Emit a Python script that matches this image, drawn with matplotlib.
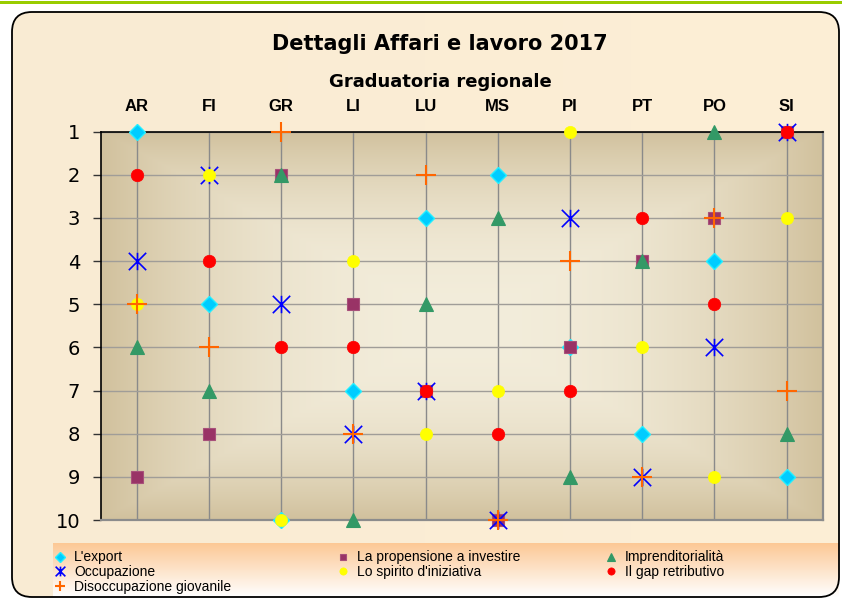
import numpy as np
import matplotlib
matplotlib.use('Agg')
import matplotlib.pyplot as plt
import matplotlib.colors as mcolors
from matplotlib.patches import FancyBboxPatch, Rectangle
from matplotlib.path import Path
from matplotlib.markers import MarkerStyle

# ---------------- data ----------------
regions = ['AR', 'FI', 'GR', 'LI', 'LU', 'MS', 'PI', 'PT', 'PO', 'SI']
rank_ticks = [1, 2, 3, 4, 5, 6, 7, 8, 9, 10]

export = [1, 5, 10, 7, 3, 2, 6, 8, 4, 9]
propensione = [9, 8, 2, 5, 7, 10, 6, 4, 3, 1]
imprenditorialita = [6, 7, 2, 10, 5, 3, 9, 4, 1, 8]
occupazione = [4, 2, 5, 8, 7, 10, 3, 9, 6, 1]
spirito = [5, 2, 10, 4, 8, 7, 1, 6, 9, 3]
gap_retributivo = [2, 4, 6, 6, 7, 8, 7, 3, 5, 1]
disoccupazione = [5, 6, 1, 8, 2, 10, 4, 9, 3, 7]

labels = ["L'export", "La propensione a investire", "Imprenditorialità",
          "Occupazione", "Lo spirito d'iniziativa", "Il gap retributivo",
          "Disoccupazione giovanile"]
series = [export, propensione, imprenditorialita, occupazione, spirito,
          gap_retributivo, disoccupazione]

title = "Dettagli Affari e lavoro 2017"
subtitle = "Graduatoria regionale"

# ---------------- styles ----------------
asterisk = Path([(-1, -1), (1, 1), (-1, 1), (1, -1), (0, -1), (0, 1)],
                [Path.MOVETO, Path.LINETO, Path.MOVETO, Path.LINETO,
                 Path.MOVETO, Path.LINETO])
styles = [
    dict(marker='D', ms=8.3, mfc='#00CCFF', mec='#22EEFF', mew=1.0),
    dict(marker='s', ms=8.6, mfc='#993366', mec='#A8507A', mew=0.8),
    dict(marker='^', ms=9.4, mfc='#339966', mec='#339966', mew=0.8),
    dict(marker=MarkerStyle(asterisk, fillstyle='none'), ms=12.5,
         mfc='none', mec='#0000FF', mew=1.2),
    dict(marker='o', ms=8.8, mfc='#FFFF00', mec='#FFFF00', mew=0.5),
    dict(marker='o', ms=9.0, mfc='#FF0000', mec='#FF0000', mew=0.5),
    dict(marker='+', ms=14.5, mfc='#FF6600', mec='#FF6600', mew=1.5),
]
legend_ms = [5.0, 5.0, 6.0, 7.0, 5.2, 5.2, 7.5]

W, H, DPI = 842, 600, 100
fig = plt.figure(figsize=(W / DPI, H / DPI), dpi=DPI, facecolor='white')


def fx(px):
    return px / W


def fy(py):
    return 1 - py / H


# ---------------- background ----------------
bg = fig.add_axes([0, 0, 1, 1], zorder=-10)
bg.set_xlim(0, W)
bg.set_ylim(H, 0)
bg.axis('off')
bg.add_patch(Rectangle((0, 1.2), W, 3.0, facecolor='#99CC00', lw=0))

clip_box = FancyBboxPatch((12, 12), 827, 585,
                          boxstyle='round,pad=0,rounding_size=20',
                          facecolor='none', edgecolor='none')
bg.add_patch(clip_box)
c_left = np.array(mcolors.to_rgb('#F9EBD3'))
c_right = np.array(mcolors.to_rgb('#FDEFD6'))
gx = np.linspace(0, 1, 200)
grad = c_left[None, None, :] * (1 - gx)[None, :, None] + c_right[None, None, :] * gx[None, :, None]
grad = np.repeat(grad, 10, axis=0)
im = bg.imshow(grad, extent=(12, 839, 597, 12), aspect='auto', interpolation='bilinear', zorder=0)
im.set_clip_path(clip_box)
bg.add_patch(FancyBboxPatch((12, 12), 827, 585,
                            boxstyle='round,pad=0,rounding_size=20',
                            facecolor='none', edgecolor='black', lw=1.3, zorder=2))

# legend background gradient
lt = np.array(mcolors.to_rgb('#FCC895'))
lb = np.array(mcolors.to_rgb('#FFFFFF'))
gy = np.linspace(0, 1, 60)
lgrad = lt[None, None, :] * (1 - gy)[:, None, None] + lb[None, None, :] * gy[:, None, None]
lgrad = np.repeat(lgrad, 4, axis=1)
bg.imshow(lgrad, extent=(53, 839, 597, 543), aspect='auto', interpolation='bilinear', zorder=1)
bg.set_xlim(0, W)
bg.set_ylim(H, 0)

# titles
fig.text(fx(440), fy(50), title, ha='center', va='baseline', fontsize=15,
         fontweight='bold', family='DejaVu Sans', color='black')
fig.text(fx(440), fy(87), subtitle, ha='center', va='baseline', fontsize=13,
         fontweight='bold', family='DejaVu Sans', color='black')

# ---------------- main axes ----------------
x0, x1, y0, y1 = 100.7, 822.7, 131.7, 520.0
ax = fig.add_axes([fx(x0), fy(y1), (x1 - x0) / W, (y1 - y0) / H])
ax.set_facecolor('none')

c_edge = np.array(mcolors.to_rgb('#D1C19D'))
c_mid = np.array(mcolors.to_rgb('#F3EDDB'))
u = np.linspace(-1, 1, 400)
v = np.linspace(-1, 1, 300)
U, V = np.meshgrid(u, v)
T = np.maximum(np.abs(U), np.abs(V)) ** 2.3
pgrad = c_mid[None, None, :] * (1 - T)[:, :, None] + c_edge[None, None, :] * T[:, :, None]

xpos = np.arange(len(regions))
ax.imshow(pgrad, extent=(-0.5, len(regions) - 0.5, max(rank_ticks), min(rank_ticks)),
          aspect='auto', interpolation='bilinear', zorder=0)

handles = []
for i, (vals, st, lab) in enumerate(zip(series, styles, labels)):
    h, = ax.plot(xpos, vals, linestyle='none', clip_on=False, zorder=5 + i,
                 label=lab, **st)
    handles.append(h)

ax.set_xlim(-0.5, len(regions) - 0.5)
ax.set_ylim(max(rank_ticks), min(rank_ticks))
ax.set_xticks(xpos)
ax.set_xticklabels(regions)
ax.set_yticks(rank_ticks)
ax.set_yticklabels([str(r) for r in rank_ticks])
ax.xaxis.tick_top()
ax.tick_params(axis='x', length=0, pad=13)
ax.tick_params(axis='y', length=5.8, width=1.0, color='#333333', pad=9, direction='out')
for t in ax.get_xticklabels():
    t.set_family(['Liberation Sans Narrow', 'Liberation Sans'])
    t.set_fontweight('bold')
    t.set_fontsize(12)
for t in ax.get_yticklabels():
    t.set_family('DejaVu Sans')
    t.set_fontsize(14)

ax.set_axisbelow(True)
ax.xaxis.grid(True, color='#8A8A8A', lw=1.0)
ax.yaxis.grid(True, color='#A09D98', lw=1.0)

ax.spines['left'].set_color('black')
ax.spines['top'].set_color('black')
ax.spines['left'].set_linewidth(1.2)
ax.spines['top'].set_linewidth(1.2)
ax.spines['right'].set_color('#8C8C8C')
ax.spines['bottom'].set_color('#8C8C8C')
ax.spines['right'].set_linewidth(1.6)
ax.spines['bottom'].set_linewidth(1.6)

# ---------------- legend (three columns, row-wise order) ----------------
leg_fs = 10.0
leg_font = dict(family=['Liberation Sans Narrow', 'Liberation Sans'], size=leg_fs)
columns = [[0, 3, 6], [1, 4], [2, 5]]
col_marker_px = [60, 343, 611]
fs_px = leg_fs * DPI / 72
for col, mx in zip(columns, col_marker_px):
    hs = []
    for k in col:
        h = plt.Line2D([], [], linestyle='none', **{**styles[k], 'ms': legend_ms[k]})
        hs.append(h)
    fig.legend(hs, [labels[k] for k in col], loc='upper left',
               bbox_to_anchor=(fx(mx - 0.5 * fs_px), fy(550.5)),
               frameon=False, prop=leg_font, handlelength=1.0,
               handletextpad=0.5, borderpad=0, borderaxespad=0,
               labelspacing=0.05, numpoints=1)

fig.savefig('out.png', dpi=DPI, facecolor='white')
